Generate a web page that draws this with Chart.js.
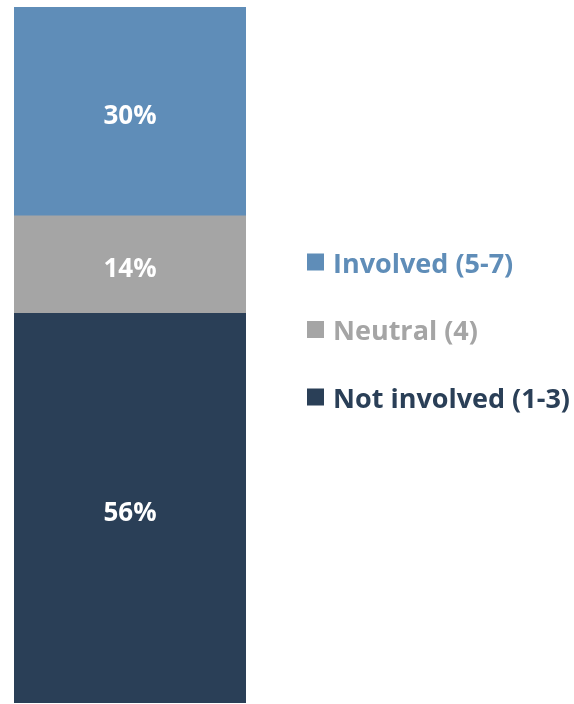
<!DOCTYPE html>
<html>
<head>
<meta charset="utf-8">
<script src="https://cdn.jsdelivr.net/npm/chart.js@4.4.1/dist/chart.umd.min.js"></script>
<style>
  html, body { margin: 0; padding: 0; background: #fff; }
  #wrap { width: 574px; height: 704px; position: relative; }
</style>
</head>
<body>
<div id="wrap"><canvas id="c"></canvas></div>
<script>
// Single stacked column: share of respondents by involvement level
const categories = ['Involvement'];
const seriesLabels = ['Not involved (1-3)', 'Neutral (4)', 'Involved (5-7)'];
const notInvolved = [56];
const neutral = [14];
const involved = [30];
const colors = ['#2A3F57', '#A5A5A5', '#5F8DB8'];

const FONT = '"Open Sans", Lato, sans-serif';

// white percentage labels centred in each segment
const segmentLabels = {
  id: 'segmentLabels',
  afterDatasetsDraw(chart) {
    const ctx = chart.ctx;
    ctx.save();
    ctx.fillStyle = '#ffffff';
    ctx.font = 'bold 26px ' + FONT;
    ctx.textAlign = 'center';
    ctx.textBaseline = 'middle';
    chart.data.datasets.forEach((ds, i) => {
      chart.getDatasetMeta(i).data.forEach((bar, j) => {
        const yMid = (bar.y + bar.base) / 2;
        ctx.fillText(ds.data[j] + '%', bar.x, yMid + 5);
      });
    });
    ctx.restore();
  }
};

// legend to the right: top item is the top segment
const sideLegend = {
  id: 'sideLegend',
  afterDraw(chart) {
    const ctx = chart.ctx;
    const ds = chart.data.datasets.slice().reverse();
    const x0 = 307, y0 = 262, step = 67.5, box = 17;
    ctx.save();
    ctx.font = 'bold 27px ' + FONT;
    ctx.textBaseline = 'middle';
    ctx.textAlign = 'left';
    ds.forEach((d, i) => {
      const y = y0 + i * step;
      ctx.fillStyle = d.backgroundColor;
      ctx.fillRect(x0, y - box / 2, box, box);
      ctx.fillText(d.label, x0 + box + 9, y + 3);
    });
    ctx.restore();
  }
};

new Chart(document.getElementById('c'), {
  type: 'bar',
  data: {
    labels: categories,
    datasets: [
      { label: seriesLabels[0], data: notInvolved, backgroundColor: colors[0] },
      { label: seriesLabels[1], data: neutral, backgroundColor: colors[1] },
      { label: seriesLabels[2], data: involved, backgroundColor: colors[2] }
    ]
  },
  options: {
    responsive: true,
    maintainAspectRatio: false,
    animation: false,
    layout: { padding: { left: 14, top: 7, right: 328, bottom: 1 } },
    datasets: { bar: { categoryPercentage: 1, barPercentage: 1, borderWidth: 0 } },
    scales: {
      x: { stacked: true, display: false },
      y: { stacked: true, display: false, min: 0, max: 100 }
    },
    plugins: { legend: { display: false }, tooltip: { enabled: false } }
  },
  plugins: [segmentLabels, sideLegend]
});
</script>
</body>
</html>
